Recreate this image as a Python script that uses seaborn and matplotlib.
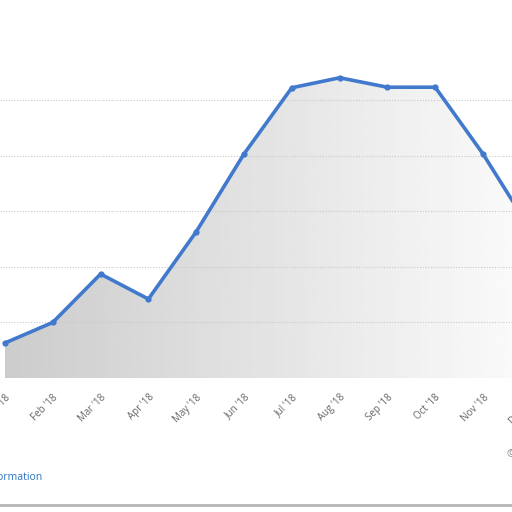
import numpy as np
import pandas as pd
import matplotlib
matplotlib.use("Agg")
import matplotlib.pyplot as plt
import seaborn as sns
from matplotlib.lines import Line2D

months = ["Jan '18", "Feb '18", "Mar '18", "Apr '18", "May '18", "Jun '18",
          "Jul '18", "Aug '18", "Sep '18", "Oct '18", "Nov '18", "Dec '18"]
values = [12.6, 20.0, 37.4, 28.4, 52.6, 80.6, 104.4, 108.0, 104.6, 104.6, 80.6, 53.2]
grid_step = 20

df = pd.DataFrame({"month": months, "value": values, "idx": range(len(months))})

sns.set_theme(style="white")
plt.rcParams['font.family'] = ['Open Sans', 'DejaVu Sans']

fig = plt.figure(figsize=(5.12, 5.12), dpi=100)
ax = fig.add_axes([0, (512 - 378) / 512, 1, 378 / 512])

px = 47.8
xlim = (-5 / px, (512 - 5) / px)
ylim = (0, 378 / 55.6 * grid_step)

xs = df["idx"].to_numpy(dtype=float)
poly = ax.fill_between(xs, df["value"], 0, color="none", lw=0)
grad = np.linspace(0.80, 0.985, 256).reshape(1, -1)
grad = np.vstack([grad] * 2)
im = ax.imshow(grad, cmap="gray", vmin=0, vmax=1, aspect="auto",
               extent=[0, 11, 0, 140], origin="lower", zorder=1)
im.set_clip_path(poly.get_paths()[0], transform=ax.transData)

for k in range(0, 6):
    ax.axhline(k * grid_step, color="#c9c9c9", lw=0.8, ls=(0, (1, 1.5)), zorder=2)

sns.lineplot(data=df, x="idx", y="value", ax=ax, color="#4179cc", lw=2.6,
             marker="o", markersize=4.5, markeredgewidth=0, zorder=3)

ax.set_xticks(xs)
ax.set_xticklabels(months, rotation=45, ha="right", rotation_mode="anchor",
                   fontsize=7, color="#666666")
ax.tick_params(axis="x", length=0, pad=10)
ax.set_yticks([])
ax.set_xlabel("")
ax.set_ylabel("")
for s in ax.spines.values():
    s.set_visible(False)
ax.set_xlim(*xlim)
ax.set_ylim(*ylim)

# last label lies beyond the visible range; draw it so its clipped start shows
ax.annotate(months[-1], xy=(xs[-1], 0), xycoords="data", xytext=(0, -13),
            textcoords="offset points", rotation=45, ha="right", va="top",
            rotation_mode="anchor", fontsize=7, color="#666666", annotation_clip=False)

fig.text(42 / 512, 1 - 478 / 512, "Additional Information", color="#2a73c4",
         fontsize=7.5, va="center", ha="right")
fig.text(0.99, 1 - 455 / 512, "©", color="#888888", fontsize=8, va="center", ha="left")
fig.add_artist(Line2D([0, 1], [1 - 505 / 512] * 2, color="#b5b5b5", lw=2,
                      transform=fig.transFigure))

fig.savefig("out.png", dpi=100, facecolor="white")
